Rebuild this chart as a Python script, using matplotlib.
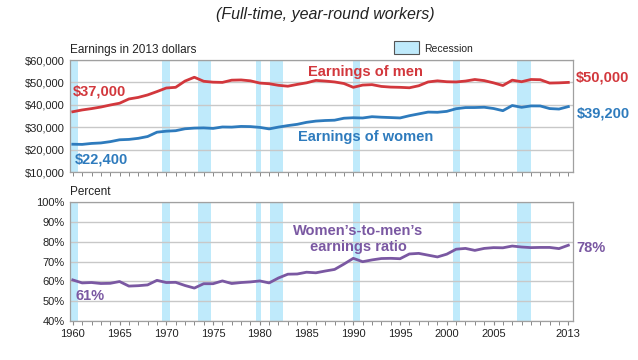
import matplotlib
matplotlib.use("Agg")
import matplotlib.pyplot as plt
from matplotlib.patches import Rectangle

plt.rcParams['font.family'] = ['Liberation Sans', 'DejaVu Sans']

years = list(range(1960, 2014))
men = [36900, 37700, 38300, 39000, 39900, 40700, 42600, 43300, 44400, 45900,
       47500, 47800, 50600, 52300, 50500, 50100, 50000, 51000, 51100, 50700,
       49700, 49400, 48700, 48300, 49100, 49800, 50900, 50600, 50200, 49500,
       47800, 48800, 49000, 48200, 47900, 47800, 47600, 48500, 50200, 50700,
       50300, 50200, 50600, 51300, 50800, 49800, 48600, 51000, 50300, 51300,
       51200, 49700, 49800, 50000]
women = [22400, 22320, 22750, 22970, 23540, 24380, 24550, 25030, 25840, 27770,
         28220, 28440, 29300, 29600, 29690, 29460, 30100, 30040, 30350, 30270,
         29920, 29240, 30050, 30720, 31280, 32170, 32730, 32990, 33130, 34010,
         34220, 34110, 34690, 34460, 34300, 34130, 35130, 35940, 36750, 36660,
         37070, 38250, 38760, 38780, 38910, 38350, 37370, 39680, 38880, 39500,
         39480, 38320, 38100, 39200]
ratio = [60.7, 59.2, 59.4, 58.9, 59.0, 59.9, 57.6, 57.8, 58.2, 60.5,
         59.4, 59.5, 57.9, 56.6, 58.8, 58.8, 60.2, 58.9, 59.4, 59.7,
         60.2, 59.2, 61.7, 63.6, 63.7, 64.6, 64.3, 65.2, 66.0, 68.7,
         71.6, 69.9, 70.8, 71.5, 71.6, 71.4, 73.8, 74.1, 73.2, 72.3,
         73.7, 76.2, 76.6, 75.6, 76.6, 77.0, 76.9, 77.8, 77.3, 77.0,
         77.1, 77.1, 76.5, 78.2]
recessions = [(1959.8, 1960.6), (1969.5, 1970.4), (1973.4, 1974.8), (1979.6, 1980.1),
              (1981.1, 1982.5), (1990.0, 1990.7), (2000.7, 2001.4), (2007.5, 2009.0)]
earn_ticks = [10000, 20000, 30000, 40000, 50000, 60000]
earn_ticklabels = ['$10,000', '$20,000', '$30,000', '$40,000', '$50,000', '$60,000']
pct_ticks = [40, 50, 60, 70, 80, 90, 100]
pct_ticklabels = ['40%', '50%', '60%', '70%', '80%', '90%', '100%']
year_ticks = [1960, 1965, 1970, 1975, 1980, 1985, 1990, 1995, 2000, 2005, 2013]

RED = '#d2373c'
BLUE = '#2e7bbd'
PURPLE = '#7a58a2'
REC = '#bfeafb'
GRID = '#c8c8c8'
TXT = '#222222'

fig = plt.figure(figsize=(6.38, 3.6), dpi=100)
ax1 = fig.add_axes([70/638, 1-172/360, 503/638, 112/360])
ax2 = fig.add_axes([70/638, 1-321/360, 503/638, 119/360])

for ax in (ax1, ax2):
    for a, b in recessions:
        ax.axvspan(a, b, color=REC, lw=0, zorder=0)
    ax.set_xlim(1959.7, 2013.5)
    ax.grid(axis='y', color=GRID, lw=1.0, zorder=1)
    for s in ax.spines.values():
        s.set_color('#a0a0a0')
        s.set_linewidth(0.9)
    ax.set_xticks(years, minor=True)
    ax.tick_params(axis='x', which='minor', length=3, color='#888888', width=0.7)
    ax.tick_params(axis='y', length=0, labelsize=8, colors=TXT, pad=4)
    ax.set_axisbelow(True)

ax1.plot(years, men, color=RED, lw=2.0, zorder=3, solid_joinstyle='round')
ax1.plot(years, women, color=BLUE, lw=2.0, zorder=3, solid_joinstyle='round')
ax1.set_ylim(10000, 60000)
ax1.set_yticks(earn_ticks)
ax1.set_yticklabels(earn_ticklabels)
ax1.set_xticks([])
ax1.set_xticks(years, minor=True)

ax2.plot(years, ratio, color=PURPLE, lw=2.0, zorder=3, solid_joinstyle='round')
ax2.set_ylim(40, 100)
ax2.set_yticks(pct_ticks)
ax2.set_yticklabels(pct_ticklabels)
ax2.set_xticks(year_ticks)
ax2.set_xticklabels([str(y) for y in year_ticks])
ax2.tick_params(axis='x', which='major', length=3, color='#888888', labelsize=8, colors=TXT, pad=3)

# texts
fig.text(325/638, 1-15/360, '(Full-time, year-round workers)', ha='center', va='center',
         fontsize=11.5, style='italic', color=TXT)
fig.text(70/638, 1-50/360, 'Earnings in 2013 dollars', ha='left', va='center', fontsize=8.5, color=TXT)
fig.text(70/638, 1-192/360, 'Percent', ha='left', va='center', fontsize=8.5, color=TXT)
fig.patches.append(Rectangle((394/638, 1-54/360), 25/638, 13/360, transform=fig.transFigure,
                             facecolor=REC, edgecolor='#555555', lw=0.8))
fig.text(424/638, 1-49/360, 'Recession', ha='left', va='center', fontsize=7.5, color=TXT)

fig.text(73/638, 1-92/360, '$37,000', ha='left', va='center', fontsize=10.5, fontweight='bold', color=RED)
fig.text(75/638, 1-159/360, '$22,400', ha='left', va='center', fontsize=10.5, fontweight='bold', color=BLUE)
fig.text(365/638, 1-72/360, 'Earnings of men', ha='center', va='center', fontsize=10.5, fontweight='bold', color=RED)
fig.text(366/638, 1-137/360, 'Earnings of women', ha='center', va='center', fontsize=10.5, fontweight='bold', color=BLUE)
fig.text(576/638, 1-77/360, '$50,000', ha='left', va='center', fontsize=10.5, fontweight='bold', color=RED)
fig.text(577/638, 1-113/360, '$39,200', ha='left', va='center', fontsize=10.5, fontweight='bold', color=BLUE)
fig.text(358/638, 1-239/360, 'Women\u2019s-to-men\u2019s\nearnings ratio', ha='center', va='center',
         fontsize=10.5, fontweight='bold', color=PURPLE, linespacing=1.15)
fig.text(75/638, 1-296/360, '61%', ha='left', va='center', fontsize=10.5, fontweight='bold', color=PURPLE)
fig.text(576/638, 1-248/360, '78%', ha='left', va='center', fontsize=10.5, fontweight='bold', color=PURPLE)

fig.savefig('out.png', dpi=100)
